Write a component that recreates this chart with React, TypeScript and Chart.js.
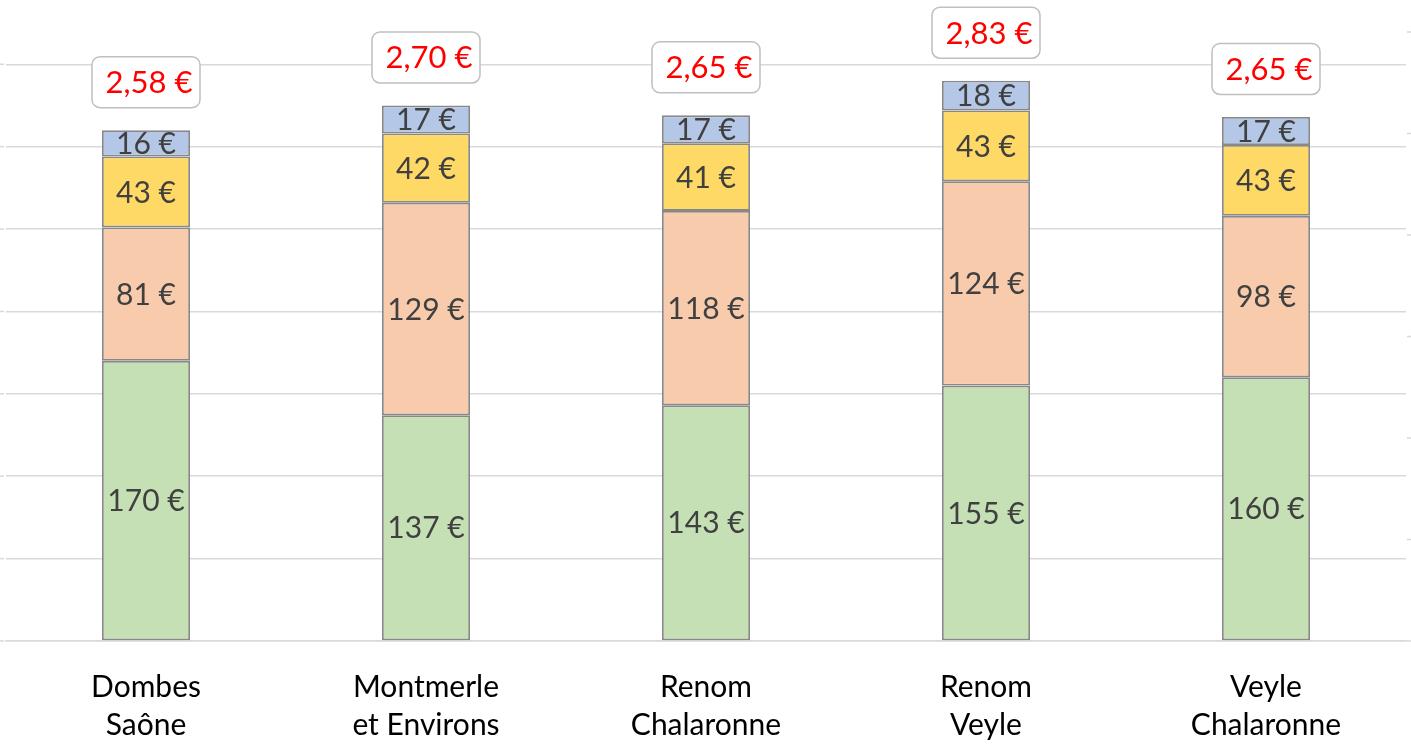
import React, { useEffect, useRef } from "react";
import { Chart, registerables } from "chart.js";

Chart.register(...registerables);

const categories: string[][] = [
  ["Dombes", "Saône"],
  ["Montmerle", "et Environs"],
  ["Renom", "Chalaronne"],
  ["Renom", "Veyle"],
  ["Veyle", "Chalaronne"],
];
const greenValues = [170, 137, 143, 155, 160];
const salmonValues = [81, 129, 118, 124, 98];
const yellowValues = [43, 42, 41, 43, 43];
const blueValues = [16, 17, 17, 18, 17];
const pricePerLiter = [2.58, 2.7, 2.65, 2.83, 2.65];
const yTicks = [0, 50, 100, 150, 200, 250, 300, 350];
const y2Ticks = [0, 0.5, 1, 1.5, 2, 2.5, 3];

const FONT = "Lato, 'Open Sans', sans-serif";

const labelPlugin = {
  id: "labels",
  afterDatasetsDraw(chart: any) {
    const ctx = chart.ctx;
    const area = chart.chartArea;
    ctx.save();
    // tiny axis tick marks
    ctx.strokeStyle = "#D9D9D9";
    ctx.lineWidth = 1.5;
    const ys = chart.scales.y;
    yTicks.forEach((v) => {
      const py = ys.getPixelForValue(v);
      ctx.beginPath();
      ctx.moveTo(0, py);
      ctx.lineTo(4, py);
      ctx.stroke();
    });
    const y2 = chart.scales.y2;
    y2Ticks.forEach((v) => {
      const py = y2.getPixelForValue(v);
      ctx.beginPath();
      ctx.moveTo(area.right + 1, py);
      ctx.lineTo(area.right + 5, py);
      ctx.stroke();
    });

    // segment labels
    ctx.font = `30px ${FONT}`;
    ctx.fillStyle = "#404040";
    ctx.textAlign = "center";
    ctx.textBaseline = "middle";
    chart.data.datasets.forEach((ds: any, di: number) => {
      const meta = chart.getDatasetMeta(di);
      meta.data.forEach((el: any, i: number) => {
        const cy = (el.y + el.base) / 2;
        ctx.fillText(`${ds.data[i]} €`, el.x, cy + 1);
      });
    });

    // price boxes
    const lastMeta = chart.getDatasetMeta(chart.data.datasets.length - 1);
    lastMeta.data.forEach((el: any, i: number) => {
      const cx = el.x;
      const cy = el.y - 48;
      const w = 108;
      const h = 51;
      ctx.beginPath();
      ctx.roundRect(cx - w / 2, cy - h / 2, w, h, 8);
      ctx.fillStyle = "#FFFFFF";
      ctx.fill();
      ctx.strokeStyle = "#BFBFBF";
      ctx.lineWidth = 1.5;
      ctx.stroke();
      ctx.fillStyle = "#FF0000";
      ctx.font = `31px ${FONT}`;
      const txt = pricePerLiter[i].toFixed(2).replace(".", ",") + " €";
      ctx.fillText(txt, cx + 3, cy + 1);
    });
    ctx.restore();
  },
};

export default function App() {
  const ref = useRef<HTMLCanvasElement>(null);
  useEffect(() => {
    if (!ref.current) return;
    const mk = (data: number[], color: string) => ({
      data,
      backgroundColor: color,
      borderColor: "#888888",
      borderWidth: 1.8,
      borderSkipped: false,
      barPercentage: 88 / 280,
      categoryPercentage: 1,
      yAxisID: "y",
    });
    const chart = new Chart(ref.current, {
      type: "bar",
      data: {
        labels: categories,
        datasets: [
          mk(greenValues, "#C5E0B4"),
          mk(salmonValues, "#F8CBAD"),
          mk(yellowValues, "#FFD966"),
          mk(blueValues, "#B4C7E7"),
        ] as any,
      },
      options: {
        animation: false,
        responsive: true,
        maintainAspectRatio: false,
        layout: { padding: { left: 6, right: 5, top: 0, bottom: 0 } },
        plugins: { legend: { display: false }, tooltip: { enabled: false } },
        scales: {
          x: {
            stacked: true,
            grid: { display: false },
            border: { color: "#D9D9D9", width: 1.5 },
            ticks: {
              color: "#000000",
              font: { family: FONT, size: 30, lineHeight: 1.27 },
              padding: 19,
              maxRotation: 0,
              autoSkip: false,
            },
            afterFit: (scale: any) => {
              scale.height = 110;
            },
          },
          y: {
            stacked: true,
            min: 0,
            max: 389,
            afterBuildTicks: (scale: any) => {
              scale.ticks = yTicks.map((v) => ({ value: v }));
            },
            ticks: { display: false },
            grid: { color: "#D9D9D9", lineWidth: 1.5, drawTicks: false },
            border: { display: false },
          },
          y2: {
            display: false,
            position: "right",
            min: 0,
            max: (641 / 609) * 3,
          },
        },
      } as any,
      plugins: [labelPlugin],
    });
    return () => chart.destroy();
  }, []);
  return (
    <div style={{ position: "fixed", left: 0, top: 0, width: 1411, height: 751, background: "#fff" }}>
      <canvas ref={ref} />
    </div>
  );
}
